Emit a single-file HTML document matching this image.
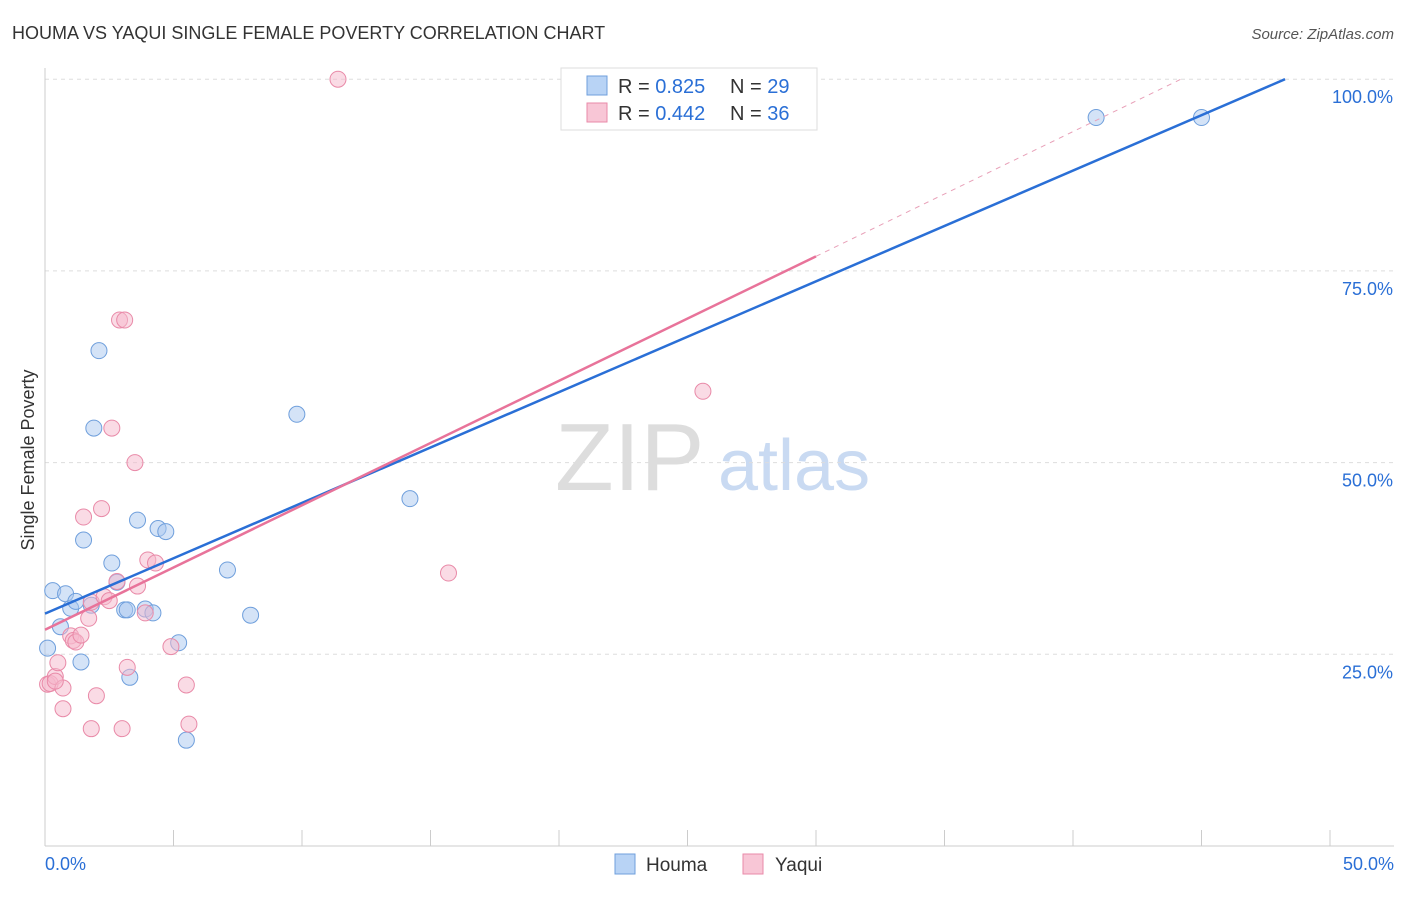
<!DOCTYPE html>
<html><head><meta charset="utf-8"><style>
body{margin:0;background:#fff;font-family:"Liberation Sans",sans-serif}
svg text{font-family:"Liberation Sans",sans-serif}
</style></head><body>
<svg id="c" width="1406" height="892">
<text x="12" y="39" font-size="18" fill="#333">HOUMA VS YAQUI SINGLE FEMALE POVERTY CORRELATION CHART</text>
<text x="1394" y="39" font-size="15" fill="#555" text-anchor="end" font-style="italic">Source: ZipAtlas.com</text>
<text x="34" y="460" font-size="18" fill="#333" text-anchor="middle" transform="rotate(-90 34 460)">Single Female Poverty</text>
<text x="555" y="490" font-size="96" fill="#ddd" font-family="Liberation Serif">ZIP</text>
<text x="718" y="490" font-size="72" fill="#c9daf2">atlas</text>
<g id="grid"></g><g id="pts"></g><g id="lines"></g>
<g>
<rect x="561" y="68" width="256" height="62" fill="#fff" stroke="#ddd"/>
<rect x="587" y="76" width="20" height="19" fill="#b8d3f5" stroke="#6f9fdc"/>
<text x="618" y="93" font-size="20" fill="#333">R = <tspan fill="#2a6fd6">0.825</tspan></text>
<text x="730" y="93" font-size="20" fill="#333">N = <tspan fill="#2a6fd6">29</tspan></text>
<rect x="587" y="103" width="20" height="19" fill="#f8c6d6" stroke="#e98aa8"/>
<text x="618" y="120" font-size="20" fill="#333">R = <tspan fill="#2a6fd6">0.442</tspan></text>
<text x="730" y="120" font-size="20" fill="#333">N = <tspan fill="#2a6fd6">36</tspan></text>
</g>
<g>
<rect x="615" y="854" width="20" height="20" fill="#b8d3f5" stroke="#6f9fdc"/>
<text x="646" y="871" font-size="19" fill="#333">Houma</text>
<rect x="743" y="854" width="20" height="20" fill="#f8c6d6" stroke="#e98aa8"/>
<text x="775" y="871" font-size="19" fill="#333">Yaqui</text>
</g>
</svg>
<script>
const houmaX=[0.1,0.3,0.6,0.8,1.0,1.2,1.4,1.5,1.9,2.1,1.8,2.6,2.8,3.1,3.2,3.3,3.6,3.9,4.2,4.4,4.7,5.2,5.5,7.1,8.0,9.8,14.2,40.9,45.0];
const houmaY=[25.8,33.3,28.6,32.9,31.0,31.9,24.0,39.9,54.5,64.6,31.4,36.9,34.4,30.8,30.8,22.0,42.5,30.9,30.4,41.4,41.0,26.5,13.8,36.0,30.1,56.3,45.3,95.0,95.0];
const yaquiX=[0.1,0.2,0.4,0.5,0.7,0.7,1.0,1.1,1.2,1.4,1.5,1.7,1.8,1.8,2.0,2.2,2.3,2.5,2.6,2.8,2.9,3.1,3.0,3.2,3.5,3.6,3.9,4.0,4.3,4.9,5.5,5.6,11.4,15.7,25.6,0.4];
const yaquiY=[21.1,21.2,22.1,23.9,20.6,17.9,27.4,26.8,26.6,27.5,42.9,29.7,15.3,31.8,19.6,44.0,32.5,32.0,54.5,34.5,68.6,68.6,15.3,23.3,50.0,33.9,30.4,37.3,36.9,26.0,21.0,15.9,100,35.6,59.3,21.5];
const gridTicks=[25,50,75,100];
const xTickLabels=["0.0%","50.0%"];
const X=v=>45+v*25.7, Y=v=>846-v*7.668;
const NS="http://www.w3.org/2000/svg";
function mk(t,a,p){const e=document.createElementNS(NS,t);for(const k in a)e.setAttribute(k,a[k]);p.appendChild(e);return e;}
const svg=document.getElementById('c'),g=document.getElementById('grid');
gridTicks.forEach(t=>{
 const l=mk('line',{x1:45,x2:1394,y1:Y(t),y2:Y(t),stroke:'#ddd','stroke-dasharray':'4,4'},g);
 
 
 const tx=mk('text',{x:1393,y:Y(t)+24,'font-size':18,fill:'#2a6fd6','text-anchor':'end'},g);tx.textContent=t.toFixed(1)+'%';
 
 
});
const ax=mk('line',{x1:45,x2:1394,y1:846,y2:846,stroke:'#ccc'},g);


const ay=mk('line',{x1:45,x2:45,y1:68,y2:846,stroke:'#ccc'},g);


for(let i=0;i<=10;i++){const t=mk('line',{x1:X(i*5),x2:X(i*5),y1:830,y2:846,stroke:'#ccc'},g);
 
 }
const l0=mk('text',{x:45,y:870,'font-size':18,fill:'#2a6fd6'},g);l0.textContent=xTickLabels[0];


const l1=mk('text',{x:1394,y:870,'font-size':18,fill:'#2a6fd6','text-anchor':'end'},g);l1.textContent=xTickLabels[1];


const p=document.getElementById('pts');
houmaX.forEach((x,i)=>{const c=mk('circle',{cx:X(x),cy:Y(houmaY[i]),r:8,fill:'rgba(169,200,240,0.5)',stroke:'#6f9fdc'},p);
 
 });
yaquiX.forEach((x,i)=>{const c=mk('circle',{cx:X(x),cy:Y(yaquiY[i]),r:8,fill:'rgba(245,184,203,0.5)',stroke:'#e98aa8'},p);
 
 });
const L=document.getElementById('lines');
const bl=mk('line',{x1:X(0),y1:Y(30.3),x2:X(48.25),y2:Y(100),stroke:'#2a6fd6','stroke-width':2.5},L);


const pl=mk('line',{x1:X(0),y1:Y(28.2),x2:X(30),y2:Y(76.9),stroke:'#e8739a','stroke-width':2.5},L);


const pd=mk('line',{x1:X(30),y1:Y(76.9),x2:X(44.2),y2:Y(100),stroke:'#e8a0b8','stroke-width':1,'stroke-dasharray':'5,5'},L);


</script>
</body></html>
